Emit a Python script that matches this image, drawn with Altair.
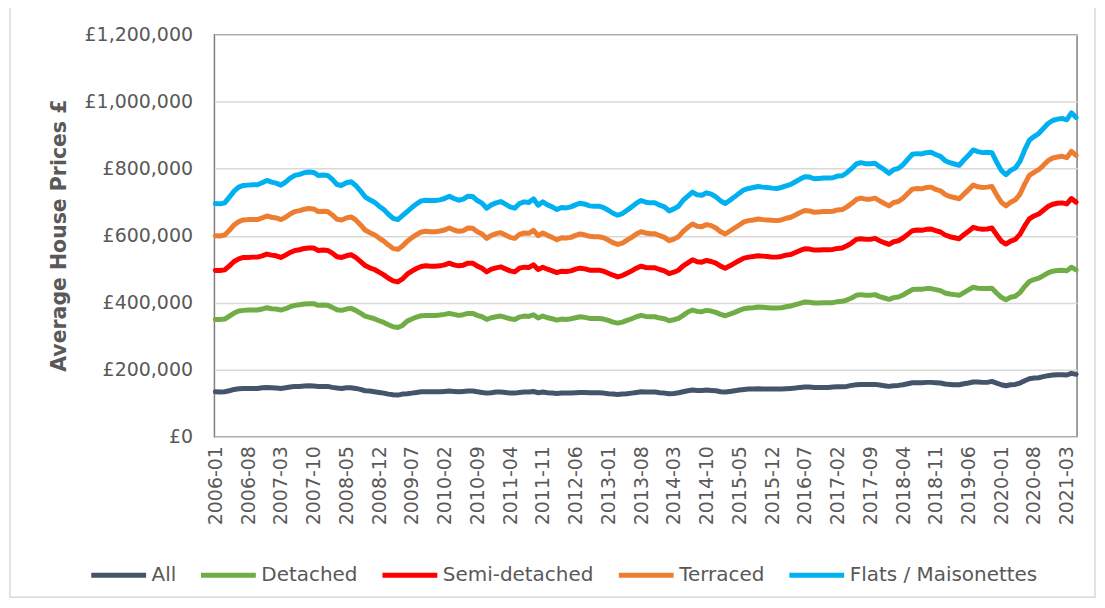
import altair as alt
import pandas as pd

# Monthly categories 2006-01 .. 2021-05
years = list(range(2006, 2022))
months = [f"{y}-{m:02d}" for y in years for m in range(1, 13)][:185]

tick_labels = ["2006-01", "2006-08", "2007-03", "2007-10", "2008-05", "2008-12", "2009-07",
               "2010-02", "2010-09", "2011-04", "2011-11", "2012-06", "2013-01", "2013-08",
               "2014-03", "2014-10", "2015-05", "2015-12", "2016-07", "2017-02", "2017-09",
               "2018-04", "2018-11", "2019-06", "2020-01", "2020-08", "2021-03"]

y_ticks = [0, 200000, 400000, 600000, 800000, 1000000, 1200000]

series_names = ["All", "Detached", "Semi-detached", "Terraced", "Flats / Maisonettes"]
series_colors = ["#44546A", "#70AD47", "#FF0000", "#ED7D31", "#00B0F0"]

# values in £ thousands (position of each line)
all_k = [134,133,134,137,141,143,144,144,144,144,
         146,147,146,145,144,146,148,150,150,151,
         152,151,150,150,150,147,145,144,146,146,
         144,141,137,136,134,132,130,127,125,124,
         127,128,130,132,134,134,134,134,134,135,
         136,135,134,135,136,136,134,132,130,131,
         133,133,132,130,130,132,133,133,135,131,
         133,131,130,129,130,130,130,131,132,132,
         131,131,131,130,128,127,126,127,128,130,
         132,134,133,133,133,131,130,128,129,131,
         134,137,139,138,138,139,138,137,134,133,
         135,137,139,141,142,142,143,142,142,142,
         142,142,143,144,145,147,148,148,147,147,
         147,147,148,149,149,150,153,155,156,156,
         156,156,154,152,150,152,153,155,158,161,
         161,161,162,162,161,160,157,156,155,155,
         158,160,163,163,162,162,165,160,155,152,
         155,156,160,167,173,175,176,179,182,184,
         185,185,184,189,186]

detached_k = [350,350,351,360,369,375,377,378,378,378,
              381,385,382,381,378,382,388,392,394,396,
              397,397,392,393,392,386,379,377,381,383,
              377,369,360,356,352,346,341,334,328,326,
              332,345,351,357,361,362,362,362,363,365,
              368,365,362,364,368,368,362,358,350,355,
              358,360,356,352,350,357,360,359,364,354,
              360,355,352,348,351,350,352,355,358,356,
              353,353,353,351,347,342,339,342,347,352,
              358,362,359,358,358,354,352,346,349,353,
              362,372,378,374,373,377,375,371,365,361,
              366,371,377,382,384,385,387,386,385,384,
              384,385,388,390,394,398,402,401,399,399,
              400,400,400,403,404,408,414,422,424,422,
              422,424,418,414,410,415,417,423,431,439,
              440,440,442,442,439,436,429,426,424,422,
              430,438,446,443,442,442,443,429,416,409,
              416,419,430,448,463,469,473,481,489,494,
              496,497,495,506,498]

semi_k = [496,496,498,510,523,531,535,535,536,536,
          540,545,542,540,535,542,550,556,558,562,
          563,563,556,557,556,548,537,535,540,543,
          535,523,511,504,499,491,483,473,465,462,
          471,485,494,502,508,510,509,509,510,513,
          518,513,510,512,518,518,509,503,492,500,
          504,507,501,495,492,503,506,505,513,499,
          506,500,495,490,494,493,495,500,503,501,
          497,497,497,494,488,482,477,481,488,495,
          503,509,505,504,504,499,495,487,491,497,
          510,519,528,522,521,526,523,518,509,503,
          510,518,526,533,536,538,540,539,538,536,
          536,538,542,544,550,556,561,560,557,557,
          558,558,559,562,563,570,578,589,591,589,
          589,592,585,579,574,582,585,593,604,615,
          617,616,619,620,615,611,602,597,594,591,
          603,613,625,621,619,620,623,603,584,575,
          584,589,604,629,650,659,665,676,687,694,
          697,698,695,711,700]

terraced_k = [600,599,602,616,632,642,647,648,648,648,
              653,659,655,653,648,655,665,672,675,679,
              681,680,672,673,672,662,649,647,653,656,
              647,633,617,609,603,593,584,572,562,559,
              569,583,594,603,611,613,612,612,614,617,
              623,617,613,615,623,622,612,605,592,601,
              606,609,602,595,592,604,608,607,616,600,
              608,601,595,588,594,593,595,601,605,602,
              598,597,597,594,587,579,574,578,587,595,
              605,612,608,606,606,600,595,585,590,597,
              613,625,635,628,627,633,630,623,612,605,
              614,623,632,641,645,647,650,648,647,646,
              645,647,652,655,662,669,675,674,670,671,
              672,672,673,677,678,686,696,708,712,709,
              709,712,704,696,689,699,702,712,726,739,
              741,740,744,745,738,734,723,717,714,710,
              724,737,751,746,744,745,747,722,700,689,
              700,707,724,754,780,789,797,810,824,832,
              835,837,833,852,840]

flats_k = [696,695,698,715,733,745,750,751,752,752,
           758,765,760,757,751,760,772,780,783,788,
           790,789,780,781,780,768,753,750,758,761,
           750,734,716,707,700,688,678,664,652,648,
           660,672,684,695,704,706,705,705,707,711,
           718,711,706,709,718,717,705,697,682,692,
           698,702,694,686,682,696,701,699,710,691,
           701,692,686,678,684,683,686,692,697,694,
           689,688,688,684,676,667,661,666,676,686,
           697,705,700,698,698,691,686,674,680,688,
           706,718,730,722,721,728,724,716,704,696,
           706,716,727,737,741,744,747,745,744,742,
           741,744,749,753,761,769,776,775,770,771,
           772,772,773,778,779,788,800,814,818,815,
           815,816,806,797,786,797,801,812,828,843,
           845,844,848,849,842,837,824,818,814,810,
           826,840,856,851,848,849,848,820,795,782,
           795,802,822,856,885,896,905,920,935,944,
           948,950,946,967,953]

rows = []
for name, vals in zip(series_names, [all_k, detached_k, semi_k, terraced_k, flats_k]):
    for m, v in zip(months, vals):
        rows.append({"month": m, "series": name, "value": v * 1000})
df = pd.DataFrame(rows)

FONT = "DejaVu Sans"
GREY = "#595959"

lines = alt.Chart(df).mark_line(strokeWidth=5, strokeCap="round", strokeJoin="round").encode(
    x=alt.X("month:O", sort=months,
            scale=alt.Scale(type="point", padding=0.2),
            axis=alt.Axis(values=tick_labels, labelAngle=270, title=None, ticks=False,
                          domain=False, grid=False, labelPadding=9, labelOverlap=False,
                          labelFont=FONT, labelFontSize=19, labelColor=GREY)),
    y=alt.Y("value:Q", scale=alt.Scale(domain=[0, 1200000], nice=False),
            axis=alt.Axis(values=y_ticks, labelExpr="'£' + format(datum.value, ',')",
                          ticks=False, domain=False, labelPadding=22,
                          labelFont=FONT, labelFontSize=19, labelColor=GREY,
                          gridColor="#D9D9D9", gridWidth=1.5,
                          title="Average House Prices £", titleFont=FONT, titleFontSize=20.5,
                          titleFontWeight="bold", titleColor=GREY, titleAngle=270,
                          titleX=-149, titleY=201, titleAlign="center",
                          titleBaseline="alphabetic")),
    color=alt.Color("series:N", sort=series_names,
                    scale=alt.Scale(domain=series_names, range=series_colors),
                    legend=alt.Legend(orient="none", legendX=-126, legendY=512,
                                      direction="horizontal", columns=5, title=None,
                                      symbolType="stroke", symbolSize=3025, symbolStrokeWidth=5,
                                      labelFont=FONT, labelFontSize=20, labelColor=GREY,
                                      labelLimit=0, labelOffset=3, columnPadding=14)),
    order=alt.Order("month:O")
)

frame_df = pd.DataFrame({"k": [0]})
frame = alt.Chart(frame_df).mark_rect(fillOpacity=0, stroke="#D9D9D9", strokeWidth=1.5).encode(
    x=alt.value(-205), x2=alt.value(883), y=alt.value(-29), y2=alt.value(564)
)

chart = alt.layer(frame, lines).properties(
    width=865, height=403,
    autosize=alt.AutoSizeParams(type="none"),
    padding={"left": 207, "top": 26, "right": 20, "bottom": 163}
).configure_view(stroke="#7F7F7F", strokeWidth=1.5)

chart.save("out.html", embed_options={"renderer": "svg", "actions": False})
